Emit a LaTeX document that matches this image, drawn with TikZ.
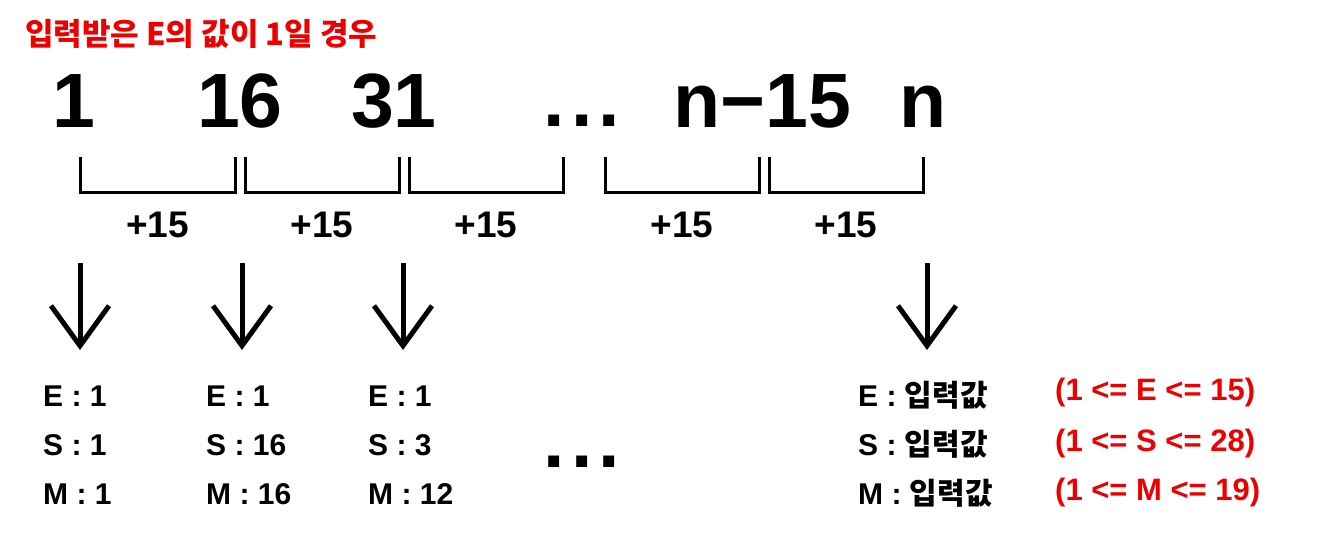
\documentclass[tikz,border=0pt]{standalone}
\usepackage{fontspec}
\setmainfont{Liberation Sans}
\newfontfamily\krfont{Noto Sans CJK KR}
\usepackage{tikz}
\usetikzlibrary{arrows.meta,positioning,calc}
\definecolor{hred}{RGB}{236,0,0}

\begin{document}
\begin{tikzpicture}[x=1pt,y=-1pt,
  every node/.style={inner sep=0pt},
  title/.style={anchor=base west,text=hred,font=\krfont\bfseries\fontsize{31}{34}\selectfont},
  big/.style={anchor=base,font=\bfseries\fontsize{77}{80}\selectfont},
  gap/.style={anchor=base,font=\bfseries\fontsize{37}{40}\selectfont},
  val/.style={anchor=base west,font=\bfseries\fontsize{30}{34}\selectfont},
  rng/.style={val,text=hred,font=\bfseries\fontsize{31}{34}\selectfont},
  brk/.style={line width=3pt},
  arr/.style={line width=5pt,-{Straight Barb[length=40pt,width=58pt]}}]
\useasboundingbox (0,0) rectangle (1320,540);
% ---------- title ----------
\node[title] (title) at (25,46) {입력받은 E의 값이 1일 경우};
% ---------- number row ----------
\node[big] (n1) at (74,128) {1};
\node[big] (n16) at (240,128) {16};
\node[big] (n31) at (394,128) {31};
\node[big] (ndots) at (582,127) {.\kern6pt.\kern6pt.};
\node[big] (nm15) at (762,128) {n−15};
\node[big] (nn) at (923,128) {n};
% ---------- brackets with step labels ----------
\foreach \l/\r/\i in {80/235/1,245/399/2,409/563/3,605/759/4,769/923/5}{
  \draw[brk] (\l,157) -- (\l,193) -- (\r,193) -- (\r,157);
  \node[gap] (g\i) at ({(\l+\r)/2},237) {+15};
}
% ---------- arrows ----------
\foreach \x/\i in {80/1,242/2,403/3,927/4}{
  \coordinate (s\i) at (\x,263);
  \coordinate (t\i) at (\x,350);
  \draw[arr] (s\i) -- (t\i);
}
% ---------- values ----------
\node[val] (e1) at (43,406) {E : 1};
\node[val] (s1) at (43,455) {S : 1};
\node[val] (m1) at (43,504) {M : 1};
\node[val] (e2) at (206,406) {E : 1};
\node[val] (s2) at (206,455) {S : 16};
\node[val] (m2) at (206,504) {M : 16};
\node[val] (e3) at (368,406) {E : 1};
\node[val] (s3) at (368,455) {S : 3};
\node[val] (m3) at (368,504) {M : 12};
\node[big] (bdots) at (582,467) {.\kern6pt.\kern6pt.};
\node[val] (e4) at (858,406) {E : {\krfont 입력값}};
\node[val] (s4) at (858,455) {S : {\krfont 입력값}};
\node[val] (m4) at (858,504) {M : {\krfont 입력값}};
\node[rng] (re) at (1055,400) {(1 <= E <= 15)};
\node[rng] (rs) at (1055,451) {(1 <= S <= 28)};
\node[rng] (rm) at (1055,500) {(1 <= M <= 19)};
\end{tikzpicture}
\end{document}
